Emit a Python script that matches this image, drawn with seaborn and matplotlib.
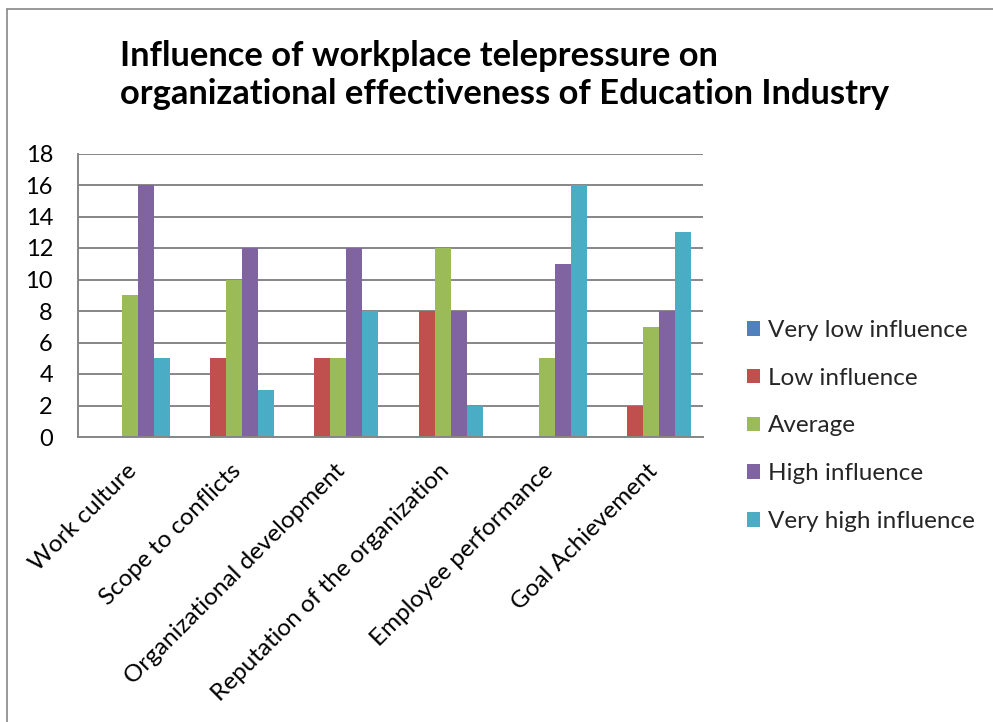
import matplotlib
matplotlib.use("Agg")
import matplotlib.pyplot as plt
from matplotlib.lines import Line2D
from matplotlib.transforms import ScaledTranslation
import seaborn as sns
import pandas as pd

categories = ["Work culture", "Scope to conflicts", "Organizational development",
              "Reputation of the organization", "Employee performance", "Goal Achievement"]
series = ["Very low influence", "Low influence", "Average", "High influence", "Very high influence"]
very_low = [0, 0, 0, 0, 0, 0]
low = [0, 5, 5, 8, 0, 2]
average = [9, 10, 5, 12, 5, 7]
high = [16, 12, 12, 8, 11, 8]
very_high = [5, 3, 8, 2, 16, 13]
colors = ["#4F81BD", "#C0504D", "#9BBB59", "#8064A2", "#4BACC6"]
title_lines = ["Influence of workplace telepressure on",
               "organizational effectiveness of Education Industry"]

rows = []
for name, vals in zip(series, [very_low, low, average, high, very_high]):
    for cat, v in zip(categories, vals):
        rows.append({"Category": cat, "Series": name, "Value": v})
df = pd.DataFrame(rows)

sns.set_theme(style="white")
plt.rcParams["font.family"] = ["Lato", "DejaVu Sans"]

W, H = 993, 722
fig = plt.figure(figsize=(W / 100, H / 100), dpi=100)
ax = fig.add_axes([78 / W, 1 - 437 / H, (703 - 78) / W, (437 - 153.5) / H])

sns.barplot(data=df, x="Category", y="Value", hue="Series", order=categories,
            hue_order=series, palette=colors, width=0.768, saturation=1,
            edgecolor="none", linewidth=0, ax=ax, legend=True)

ax.set_ylim(0, 18)
ax.set_yticks(range(0, 19, 2))
ax.set_xlim(-0.5, len(categories) - 0.5)
ax.yaxis.grid(True, color="#868686", linewidth=1.4)
ax.set_axisbelow(True)
ax.set_xlabel("")
ax.set_ylabel("")
for side in ["top", "right"]:
    ax.spines[side].set_visible(False)
for side in ["left", "bottom"]:
    ax.spines[side].set_color("#868686")
    ax.spines[side].set_linewidth(1.4)
ax.tick_params(axis="y", length=0, pad=18, labelsize=17, labelcolor="black")
ax.tick_params(axis="x", length=0, pad=22, labelsize=17.5, labelcolor="black")
shift = ScaledTranslation(3 / 100, 0, fig.dpi_scale_trans)
for lbl in ax.get_xticklabels():
    lbl.set_rotation(45)
    lbl.set_ha("right")
    lbl.set_va("center")
    lbl.set_rotation_mode("anchor")
    lbl.set_transform(lbl.get_transform() + shift)

handles, labels = ax.get_legend_handles_labels()
ax.get_legend().remove()
fig.legend(handles, labels, loc="center left", bbox_to_anchor=(747 / W, 1 - 426 / H),
           frameon=False, fontsize=17.5, handlelength=0.55, handleheight=0.55,
           handletextpad=0.3, labelspacing=1.1, borderpad=0, borderaxespad=0)

fig.text(120 / W, 1 - 66 / H, title_lines[0], ha="left", va="baseline", fontsize=24.8,
         fontweight="bold", color="black")
fig.text(120 / W, 1 - 104 / H, title_lines[1], ha="left", va="baseline", fontsize=24.8,
         fontweight="bold", color="black")

# outer chart frame
fig.add_artist(Line2D([7 / W, 7 / W], [0, 1 - 9 / H], color="#888888", linewidth=1.2,
                      transform=fig.transFigure))
fig.add_artist(Line2D([7 / W, 1], [1 - 9 / H, 1 - 9 / H], color="#888888", linewidth=1.2,
                      transform=fig.transFigure))

fig.savefig("out.png", dpi=100, facecolor="white")
